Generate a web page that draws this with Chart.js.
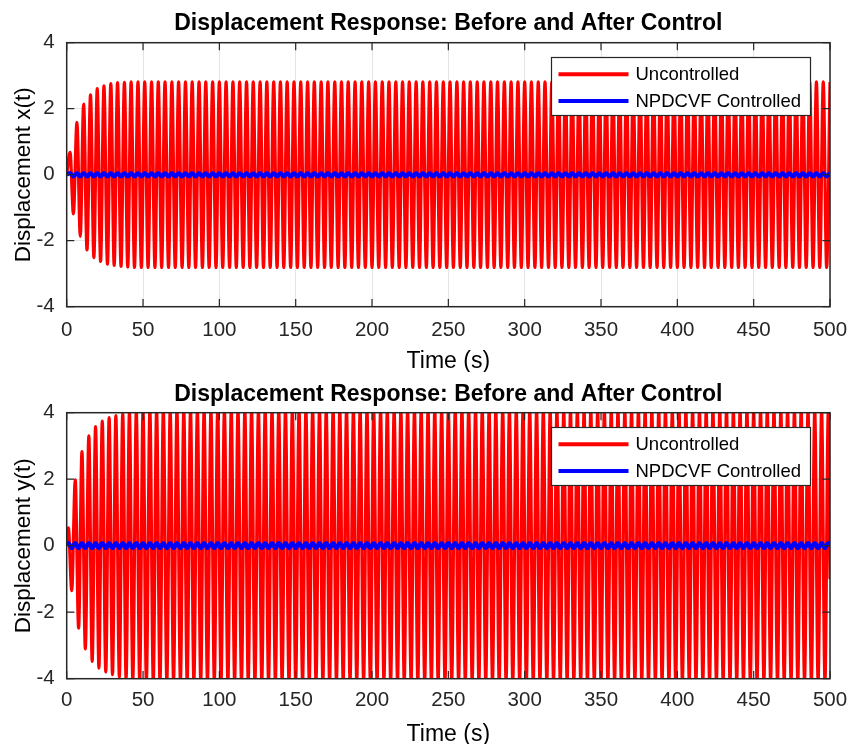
<!DOCTYPE html>
<html><head><meta charset="utf-8">
<script src="https://cdn.jsdelivr.net/npm/chart.js@4.4.1/dist/chart.umd.min.js"></script>
<style>
html,body{margin:0;padding:0;background:#fff;overflow:hidden;}
#w1{position:absolute;left:0;top:0;width:848px;height:372px;}
#w2{position:absolute;left:0;top:370px;width:848px;height:374px;}
</style></head><body>
<div id="w1"><canvas id="c1"></canvas></div>
<div id="w2"><canvas id="c2"></canvas></div>
<script>
const titleText = "Displacement Response: Before and After Control";
const xAxisTitle = "Time (s)";
const yAxisTitles = ["Displacement x(t)", "Displacement y(t)"];
const seriesNames = ["Uncontrolled", "NPDCVF Controlled"];
const xTicks = [0,50,100,150,200,250,300,350,400,450,500];
const yTicks = [-4,-2,0,2,4];

// times of the extremes of x(t) (s)
const tX = [0,
2.2,4.4,6.7,8.9,11.1,13.3,15.6,17.8,20,
22.2,24.4,26.7,28.9,31.1,33.3,35.6,37.8,40,
42.2,44.4,46.7,48.9,51.1,53.3,55.6,57.8,60,
62.2,64.4,66.7,68.9,71.1,73.3,75.6,77.8,80,
82.2,84.4,86.7,88.9,91.1,93.3,95.6,97.8,100,
102.2,104.4,106.7,108.9,111.1,113.3,115.6,117.8,120,
122.2,124.4,126.7,128.9,131.1,133.3,135.6,137.8,140,
142.2,144.4,146.7,148.9,151.1,153.3,155.6,157.8,160,
162.2,164.4,166.7,168.9,171.1,173.3,175.6,177.8,180,
182.2,184.4,186.7,188.9,191.1,193.3,195.6,197.8,200,
202.2,204.4,206.7,208.9,211.1,213.3,215.6,217.8,220,
222.2,224.4,226.7,228.9,231.1,233.3,235.6,237.8,240,
242.2,244.4,246.7,248.9,251.1,253.3,255.6,257.8,260,
262.2,264.4,266.7,268.9,271.1,273.3,275.6,277.8,280,
282.2,284.4,286.7,288.9,291.1,293.3,295.6,297.8,300,
302.2,304.4,306.7,308.9,311.1,313.3,315.6,317.8,320,
322.2,324.4,326.7,328.9,331.1,333.3,335.6,337.8,340,
342.2,344.4,346.7,348.9,351.1,353.3,355.6,357.8,360,
362.2,364.4,366.7,368.9,371.1,373.3,375.6,377.8,380,
382.2,384.4,386.7,388.9,391.1,393.3,395.6,397.8,400,
402.2,404.4,406.7,408.9,411.1,413.3,415.6,417.8,420,
422.2,424.4,426.7,428.9,431.1,433.3,435.6,437.8,440,
442.2,444.4,446.7,448.9,451.1,453.3,455.6,457.8,460,
462.2,464.4,466.7,468.9,471.1,473.3,475.6,477.8,480,
482.2,484.4,486.7,488.9,491.1,493.3,495.6,497.8,500];

const xUncontrolled = [0,
0.68,-1.19,1.59,-1.87,2.14,-2.28,2.42,-2.51,2.61,
-2.63,2.69,-2.71,2.76,-2.75,2.79,-2.78,2.80,-2.80,
2.81,-2.81,2.81,-2.81,2.81,-2.81,2.81,-2.81,2.81,
-2.81,2.81,-2.81,2.81,-2.81,2.81,-2.81,2.81,-2.81,
2.81,-2.81,2.81,-2.81,2.81,-2.81,2.81,-2.81,2.81,
-2.81,2.81,-2.81,2.81,-2.81,2.81,-2.81,2.81,-2.81,
2.81,-2.81,2.81,-2.81,2.81,-2.81,2.81,-2.81,2.81,
-2.81,2.81,-2.81,2.81,-2.81,2.81,-2.81,2.81,-2.81,
2.81,-2.81,2.81,-2.81,2.81,-2.81,2.81,-2.81,2.81,
-2.81,2.81,-2.81,2.81,-2.81,2.81,-2.81,2.81,-2.81,
2.81,-2.81,2.81,-2.81,2.81,-2.81,2.81,-2.81,2.81,
-2.81,2.81,-2.81,2.81,-2.81,2.81,-2.81,2.81,-2.81,
2.81,-2.81,2.81,-2.81,2.81,-2.81,2.81,-2.81,2.81,
-2.81,2.81,-2.81,2.81,-2.81,2.81,-2.81,2.81,-2.81,
2.81,-2.81,2.81,-2.81,2.81,-2.81,2.81,-2.81,2.81,
-2.81,2.81,-2.81,2.81,-2.81,2.81,-2.81,2.81,-2.81,
2.81,-2.81,2.81,-2.81,2.81,-2.81,2.81,-2.81,2.81,
-2.81,2.81,-2.81,2.81,-2.81,2.81,-2.81,2.81,-2.81,
2.81,-2.81,2.81,-2.81,2.81,-2.81,2.81,-2.81,2.81,
-2.81,2.81,-2.81,2.81,-2.81,2.81,-2.81,2.81,-2.81,
2.81,-2.81,2.81,-2.81,2.81,-2.81,2.81,-2.81,2.81,
-2.81,2.81,-2.81,2.81,-2.81,2.81,-2.81,2.81,-2.81,
2.81,-2.81,2.81,-2.81,2.81,-2.81,2.81,-2.81,2.81,
-2.81,2.81,-2.81,2.81,-2.81,2.81,-2.81,2.81,-2.81,
2.81,-2.81,2.81,-2.81,2.81,-2.81,2.81,-2.81,2.81];

const xControlled = [0,
0.05,-0.05,0.05,-0.05,0.05,-0.05,0.05,-0.05,0.05,
-0.05,0.05,-0.05,0.05,-0.05,0.05,-0.05,0.05,-0.05,
0.05,-0.05,0.05,-0.05,0.05,-0.05,0.05,-0.05,0.05,
-0.05,0.05,-0.05,0.05,-0.05,0.05,-0.05,0.05,-0.05,
0.05,-0.05,0.05,-0.05,0.05,-0.05,0.05,-0.05,0.05,
-0.05,0.05,-0.05,0.05,-0.05,0.05,-0.05,0.05,-0.05,
0.05,-0.05,0.05,-0.05,0.05,-0.05,0.05,-0.05,0.05,
-0.05,0.05,-0.05,0.05,-0.05,0.05,-0.05,0.05,-0.05,
0.05,-0.05,0.05,-0.05,0.05,-0.05,0.05,-0.05,0.05,
-0.05,0.05,-0.05,0.05,-0.05,0.05,-0.05,0.05,-0.05,
0.05,-0.05,0.05,-0.05,0.05,-0.05,0.05,-0.05,0.05,
-0.05,0.05,-0.05,0.05,-0.05,0.05,-0.05,0.05,-0.05,
0.05,-0.05,0.05,-0.05,0.05,-0.05,0.05,-0.05,0.05,
-0.05,0.05,-0.05,0.05,-0.05,0.05,-0.05,0.05,-0.05,
0.05,-0.05,0.05,-0.05,0.05,-0.05,0.05,-0.05,0.05,
-0.05,0.05,-0.05,0.05,-0.05,0.05,-0.05,0.05,-0.05,
0.05,-0.05,0.05,-0.05,0.05,-0.05,0.05,-0.05,0.05,
-0.05,0.05,-0.05,0.05,-0.05,0.05,-0.05,0.05,-0.05,
0.05,-0.05,0.05,-0.05,0.05,-0.05,0.05,-0.05,0.05,
-0.05,0.05,-0.05,0.05,-0.05,0.05,-0.05,0.05,-0.05,
0.05,-0.05,0.05,-0.05,0.05,-0.05,0.05,-0.05,0.05,
-0.05,0.05,-0.05,0.05,-0.05,0.05,-0.05,0.05,-0.05,
0.05,-0.05,0.05,-0.05,0.05,-0.05,0.05,-0.05,0.05,
-0.05,0.05,-0.05,0.05,-0.05,0.05,-0.05,0.05,-0.05,
0.05,-0.05,0.05,-0.05,0.05,-0.05,0.05,-0.05,0.05];

// times of the extremes of y(t) (s)
const tY = [0,
1.1,3.3,5.6,7.8,10,12.2,14.5,16.7,18.9,
21.1,23.3,25.6,27.8,30,32.2,34.5,36.7,38.9,
41.1,43.3,45.6,47.8,50,52.2,54.5,56.7,58.9,
61.1,63.3,65.6,67.8,70,72.2,74.5,76.7,78.9,
81.1,83.3,85.6,87.8,90,92.2,94.5,96.7,98.9,
101.1,103.3,105.6,107.8,110,112.2,114.5,116.7,118.9,
121.1,123.3,125.6,127.8,130,132.2,134.5,136.7,138.9,
141.1,143.3,145.6,147.8,150,152.2,154.5,156.7,158.9,
161.1,163.3,165.6,167.8,170,172.2,174.5,176.7,178.9,
181.1,183.3,185.6,187.8,190,192.2,194.5,196.7,198.9,
201.1,203.3,205.6,207.8,210,212.2,214.5,216.7,218.9,
221.1,223.3,225.6,227.8,230,232.2,234.5,236.7,238.9,
241.1,243.3,245.6,247.8,250,252.2,254.5,256.7,258.9,
261.1,263.3,265.6,267.8,270,272.2,274.5,276.7,278.9,
281.1,283.3,285.6,287.8,290,292.2,294.5,296.7,298.9,
301.1,303.3,305.6,307.8,310,312.2,314.5,316.7,318.9,
321.1,323.3,325.6,327.8,330,332.2,334.5,336.7,338.9,
341.1,343.3,345.6,347.8,350,352.2,354.5,356.7,358.9,
361.1,363.3,365.6,367.8,370,372.2,374.5,376.7,378.9,
381.1,383.3,385.6,387.8,390,392.2,394.5,396.7,398.9,
401.1,403.3,405.6,407.8,410,412.2,414.5,416.7,418.9,
421.1,423.3,425.6,427.8,430,432.2,434.5,436.7,438.9,
441.1,443.3,445.6,447.8,450,452.2,454.5,456.7,458.9,
461.1,463.3,465.6,467.8,470,472.2,474.5,476.7,478.9,
481.1,483.3,485.6,487.8,490,492.2,494.5,496.7,498.9,
500];

const yUncontrolled = [0,
0.54,-1.35,1.98,-2.48,2.83,-3.10,3.30,-3.48,3.58,
-3.68,3.75,-3.80,3.85,-3.88,3.91,-3.95,3.98,-4.00,
4.02,-4.03,4.04,-4.05,4.06,-4.06,4.07,-4.07,4.08,
-4.08,4.08,-4.08,4.08,-4.08,4.08,-4.08,4.08,-4.08,
4.08,-4.08,4.08,-4.08,4.08,-4.08,4.08,-4.08,4.08,
-4.08,4.08,-4.08,4.08,-4.08,4.08,-4.08,4.08,-4.08,
4.08,-4.08,4.08,-4.08,4.08,-4.08,4.08,-4.08,4.08,
-4.08,4.08,-4.08,4.08,-4.08,4.08,-4.08,4.08,-4.08,
4.08,-4.08,4.08,-4.08,4.08,-4.08,4.08,-4.08,4.08,
-4.08,4.08,-4.08,4.08,-4.08,4.08,-4.08,4.08,-4.08,
4.08,-4.08,4.08,-4.08,4.08,-4.08,4.08,-4.08,4.08,
-4.08,4.08,-4.08,4.08,-4.08,4.08,-4.08,4.08,-4.08,
4.08,-4.08,4.08,-4.08,4.08,-4.08,4.08,-4.08,4.08,
-4.08,4.08,-4.08,4.08,-4.08,4.08,-4.08,4.08,-4.08,
4.08,-4.08,4.08,-4.08,4.08,-4.08,4.08,-4.08,4.08,
-4.08,4.08,-4.08,4.08,-4.08,4.08,-4.08,4.08,-4.08,
4.08,-4.08,4.08,-4.08,4.08,-4.08,4.08,-4.08,4.08,
-4.08,4.08,-4.08,4.08,-4.08,4.08,-4.08,4.08,-4.08,
4.08,-4.08,4.08,-4.08,4.08,-4.08,4.08,-4.08,4.08,
-4.08,4.08,-4.08,4.08,-4.08,4.08,-4.08,4.08,-4.08,
4.08,-4.08,4.08,-4.08,4.08,-4.08,4.08,-4.08,4.08,
-4.08,4.08,-4.08,4.08,-4.08,4.08,-4.08,4.08,-4.08,
4.08,-4.08,4.08,-4.08,4.08,-4.08,4.08,-4.08,4.08,
-4.08,4.08,-4.08,4.08,-4.08,4.08,-4.08,4.08,-4.08,
4.08,-4.08,4.08,-4.08,4.08,-4.08,4.08,-4.08,4.08,
-1.0];

const yControlled = [0,
0.075,-0.075,0.075,-0.075,0.075,-0.075,0.075,-0.075,0.075,
-0.075,0.075,-0.075,0.075,-0.075,0.075,-0.075,0.075,-0.075,
0.075,-0.075,0.075,-0.075,0.075,-0.075,0.075,-0.075,0.075,
-0.075,0.075,-0.075,0.075,-0.075,0.075,-0.075,0.075,-0.075,
0.075,-0.075,0.075,-0.075,0.075,-0.075,0.075,-0.075,0.075,
-0.075,0.075,-0.075,0.075,-0.075,0.075,-0.075,0.075,-0.075,
0.075,-0.075,0.075,-0.075,0.075,-0.075,0.075,-0.075,0.075,
-0.075,0.075,-0.075,0.075,-0.075,0.075,-0.075,0.075,-0.075,
0.075,-0.075,0.075,-0.075,0.075,-0.075,0.075,-0.075,0.075,
-0.075,0.075,-0.075,0.075,-0.075,0.075,-0.075,0.075,-0.075,
0.075,-0.075,0.075,-0.075,0.075,-0.075,0.075,-0.075,0.075,
-0.075,0.075,-0.075,0.075,-0.075,0.075,-0.075,0.075,-0.075,
0.075,-0.075,0.075,-0.075,0.075,-0.075,0.075,-0.075,0.075,
-0.075,0.075,-0.075,0.075,-0.075,0.075,-0.075,0.075,-0.075,
0.075,-0.075,0.075,-0.075,0.075,-0.075,0.075,-0.075,0.075,
-0.075,0.075,-0.075,0.075,-0.075,0.075,-0.075,0.075,-0.075,
0.075,-0.075,0.075,-0.075,0.075,-0.075,0.075,-0.075,0.075,
-0.075,0.075,-0.075,0.075,-0.075,0.075,-0.075,0.075,-0.075,
0.075,-0.075,0.075,-0.075,0.075,-0.075,0.075,-0.075,0.075,
-0.075,0.075,-0.075,0.075,-0.075,0.075,-0.075,0.075,-0.075,
0.075,-0.075,0.075,-0.075,0.075,-0.075,0.075,-0.075,0.075,
-0.075,0.075,-0.075,0.075,-0.075,0.075,-0.075,0.075,-0.075,
0.075,-0.075,0.075,-0.075,0.075,-0.075,0.075,-0.075,0.075,
-0.075,0.075,-0.075,0.075,-0.075,0.075,-0.075,0.075,-0.075,
0.075,-0.075,0.075,-0.075,0.075,-0.075,0.075,-0.075,0.075,
0];

const FONT = "'Liberation Sans', Arial, Helvetica, sans-serif";
Chart.defaults.font.family = FONT;
Chart.defaults.color = '#262626';

const AXIS_COLOR = '#262626';
const RED = '#ff0000';
const BLUE = '#0000ff';

const matlabFrame = {
  id: 'matlabFrame',
  afterDatasetsDraw(chart, args, opts) {
    const {ctx, chartArea: a, scales} = chart;
    ctx.save();
    ctx.strokeStyle = AXIS_COLOR;
    ctx.lineWidth = 1.5;
    ctx.strokeRect(a.left, a.top, a.right - a.left, a.bottom - a.top);
    ctx.lineWidth = 1.2;
    const tl = 7.6;
    ctx.beginPath();
    xTicks.forEach(v => {
      const px = scales.x.getPixelForValue(v);
      ctx.moveTo(px, a.bottom); ctx.lineTo(px, a.bottom - tl);
      ctx.moveTo(px, a.top); ctx.lineTo(px, a.top + tl);
    });
    yTicks.forEach(v => {
      const py = scales.y.getPixelForValue(v);
      ctx.moveTo(a.left, py); ctx.lineTo(a.left + tl, py);
      ctx.moveTo(a.right, py); ctx.lineTo(a.right - tl, py);
    });
    ctx.stroke();
    // legend box inside the axes (top right)
    const w = 259, h = 58;
    const right = a.right - 19.5, top = a.top + 14.8, left = right - w;
    ctx.fillStyle = '#ffffff';
    ctx.fillRect(left, top, w, h);
    ctx.strokeStyle = AXIS_COLOR;
    ctx.lineWidth = 1.2;
    ctx.strokeRect(left, top, w, h);
    ctx.font = '18.5px ' + FONT;
    ctx.textBaseline = 'middle';
    ctx.textAlign = 'left';
    chart.data.datasets.forEach((ds, i) => {
      const y = top + 16.7 + i * 26.7;
      ctx.strokeStyle = ds.borderColor;
      ctx.lineWidth = 4;
      ctx.beginPath();
      ctx.moveTo(left + 7, y); ctx.lineTo(left + 77, y);
      ctx.stroke();
      ctx.fillStyle = '#000000';
      ctx.fillText(ds.label, left + 84, y + 1);
    });
    ctx.restore();
  }
};

function pts(ts, vs) { return ts.map((t, i) => ({x: t, y: vs[i]})); }

function makeChart(id, yTitle, unc, ctl, times, L) {
  return new Chart(document.getElementById(id), {
    type: 'line',
    data: {
      datasets: [
        {label: seriesNames[0], data: pts(times, unc), borderColor: RED, borderWidth: 3.2,
         pointRadius: 0, cubicInterpolationMode: 'monotone', order: 1},
        {label: seriesNames[1], data: pts(times, ctl), borderColor: BLUE, borderWidth: 4.2,
         pointRadius: 0, cubicInterpolationMode: 'monotone', order: 0}
      ]
    },
    options: {
      responsive: true, maintainAspectRatio: false, animation: false, devicePixelRatio: 1,
      layout: {padding: {left: 0, right: 18, top: 0, bottom: 0}},
      plugins: {
        legend: {display: false},
        tooltip: {enabled: false},
        title: {display: true, text: titleText, color: '#000', fullSize: false,
                font: {size: 23, weight: 'bold', family: FONT},
                padding: {top: L.tpTop, bottom: L.tpBot}}
      },
      scales: {
        x: {type: 'linear', min: 0, max: 500,
            ticks: {stepSize: 50, font: {size: 20.5}, color: AXIS_COLOR, padding: L.xtPad, maxRotation: 0},
            grid: {color: '#e4e4e4', lineWidth: 1, drawTicks: false},
            border: {display: false},
            title: {display: true, text: xAxisTitle, color: '#000', font: {size: 23, lineHeight: 0.8},
                    padding: {top: 0, bottom: L.xTitleBot}},
            afterFit(s) { s.height = L.xH; s.paddingLeft = 0; s.paddingRight = 0; }},
        y: {type: 'linear', min: -4, max: 4,
            ticks: {stepSize: 2, font: {size: 20.5}, color: AXIS_COLOR, padding: 12},
            grid: {color: '#e4e4e4', lineWidth: 1, drawTicks: false},
            border: {display: false},
            title: {display: true, text: yTitle, color: '#000', font: {size: 22.5, lineHeight: 1.2},
                    padding: {top: 10.5, bottom: 0}},
            afterFit(s) { s.width = 66.7; }}
      }
    },
    plugins: [matlabFrame]
  });
}

makeChart('c1', yAxisTitles[0], xUncontrolled, xControlled, tX,
  {tpTop: 9.7, tpBot: 5.4, xtPad: 11, xTitleBot: 0.8, xH: 65.3});
makeChart('c2', yAxisTitles[1], yUncontrolled, yControlled, tY,
  {tpTop: 11, tpBot: 4.1, xtPad: 9, xTitleBot: 0, xH: 65.3});
</script>
</body></html>
